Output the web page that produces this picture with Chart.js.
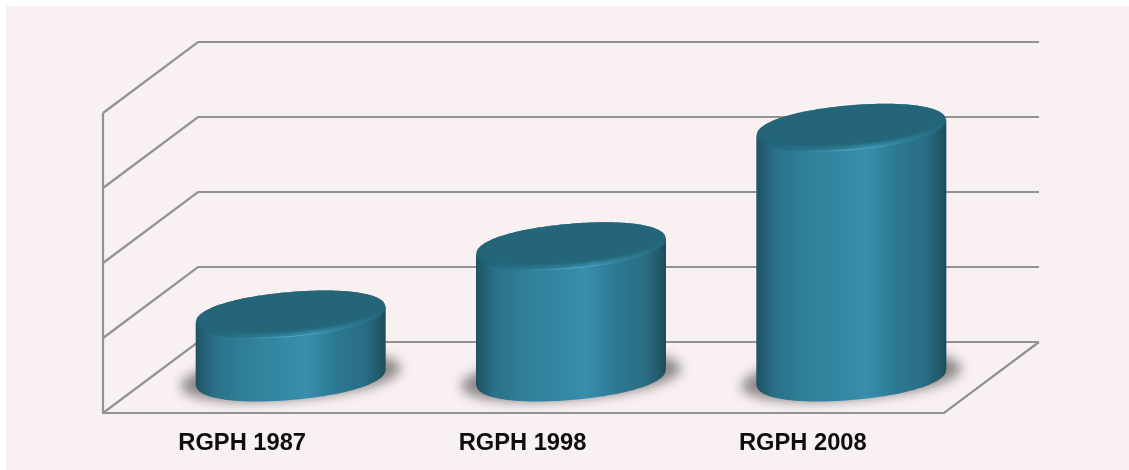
<!DOCTYPE html>
<html>
<head>
<meta charset="utf-8">
<script src="https://cdn.jsdelivr.net/npm/chart.js@4"></script>
<style>
html,body{margin:0;padding:0;background:#ffffff;}
#wrap{position:relative;width:1129px;height:470px;}
</style>
</head>
<body>
<div id="wrap"><canvas id="c" width="1129" height="470"></canvas></div>
<script>
const categories = ["RGPH 1987", "RGPH 1998", "RGPH 2008"];
const values = [0.84, 1.75, 3.33];
const axisMin = 0, axisMax = 4, axisStep = 1;

const DEPTH_X = 95, DEPTH_Y = 71;
const GRID = "#929290";
const TILT = -4.9 * Math.PI / 180;
const ROUNDNESS = 2.12;

function ellipsePath(ctx, cx, cy, a, b, rot) {
  const c = Math.cos(rot), s = Math.sin(rot), e = 2 / ROUNDNESS;
  ctx.beginPath();
  for (let i = 0; i < 180; i++) {
    const t = i / 180 * Math.PI * 2;
    const ct = Math.cos(t), st = Math.sin(t);
    const u = a * Math.sign(ct) * Math.pow(Math.abs(ct), e);
    const v = b * Math.sign(st) * Math.pow(Math.abs(st), e);
    const px = cx + u * c - v * s, py = cy + u * s + v * c;
    if (i === 0) ctx.moveTo(px, py); else ctx.lineTo(px, py);
  }
  ctx.closePath();
}

const scene = {
  id: "scene",
  beforeDraw(chart) {
    const ctx = chart.ctx;
    ctx.save();
    ctx.fillStyle = "#f8f0f1";
    ctx.fillRect(6, 6, 1123, 464);
    ctx.restore();
  },
  beforeDatasetsDraw(chart) {
    const { ctx, chartArea: ca, scales } = chart;
    const y = scales.y;
    ctx.save();
    ctx.strokeStyle = GRID;
    ctx.lineWidth = 2.2;
    ctx.lineJoin = "miter";
    y.ticks.forEach(t => {
      const py = y.getPixelForValue(t.value);
      ctx.beginPath();
      ctx.moveTo(ca.left, py);
      ctx.lineTo(ca.left + DEPTH_X, py - DEPTH_Y);
      ctx.lineTo(ca.right + DEPTH_X, py - DEPTH_Y);
      ctx.stroke();
    });
    const y0 = y.getPixelForValue(axisMin);
    const yT = y.getPixelForValue(axisMax);
    ctx.beginPath();
    ctx.moveTo(ca.left, yT);
    ctx.lineTo(ca.left, y0);
    ctx.lineTo(ca.right, y0);
    ctx.lineTo(ca.right + DEPTH_X, y0 - DEPTH_Y);
    ctx.stroke();
    ctx.restore();
  },
  afterDatasetsDraw(chart) {
    const ctx = chart.ctx;
    const meta = chart.getDatasetMeta(0);
    meta.data.forEach(bar => {
      const ext = bar.width / 2;
      const cx = bar.x + DEPTH_X / 2;
      const yBase = bar.base - DEPTH_Y / 2;
      const yTop = bar.y - DEPTH_Y / 2;
      const a = ext * 1.0, b = ext * 0.236, off = ext * 0.083;
      ctx.save();
      // floor shadow
      ctx.filter = "blur(6px)";
      ctx.fillStyle = "rgba(112,105,105,0.78)";
      ellipsePath(ctx, cx, yBase - 0.5, a + 15, b, TILT);
      ctx.fill();
      ctx.filter = "none";
      // body
      const g = ctx.createLinearGradient(cx - ext, 0, cx + ext, 0);
      g.addColorStop(0, "#1f5263");
      g.addColorStop(0.1, "#2a7188");
      g.addColorStop(0.25, "#2f7e98");
      g.addColorStop(0.58, "#378fab");
      g.addColorStop(0.75, "#2c7790");
      g.addColorStop(0.88, "#2a6f85");
      g.addColorStop(0.95, "#235d70");
      g.addColorStop(1, "#1d4c5b");
      ctx.fillStyle = g;
      ellipsePath(ctx, cx, yBase, a, b, TILT);
      ctx.fill();
      ctx.beginPath();
      ctx.moveTo(cx - ext, yBase + off);
      ctx.lineTo(cx - ext, yTop + off);
      ctx.lineTo(cx + ext, yTop - off);
      ctx.lineTo(cx + ext, yBase - off);
      ctx.closePath();
      ctx.fill();
      // top face: rim
      const rim = ctx.createLinearGradient(cx - ext, 0, cx + ext, 0);
      rim.addColorStop(0, "#1f6074");
      rim.addColorStop(0.3, "#2a778f");
      rim.addColorStop(0.62, "#358ca6");
      rim.addColorStop(0.85, "#2b7a91");
      rim.addColorStop(1, "#236476");
      ellipsePath(ctx, cx, yTop, a, b, TILT);
      ctx.fillStyle = rim;
      ctx.fill();
      ctx.save();
      ellipsePath(ctx, cx, yTop, a, b, TILT);
      ctx.clip();
      // light line on the lower rim
      const hi = ctx.createLinearGradient(cx - ext, 0, cx + ext, 0);
      hi.addColorStop(0.2, "rgba(95,180,205,0)");
      hi.addColorStop(0.5, "rgba(95,180,205,0.7)");
      hi.addColorStop(0.8, "rgba(95,180,205,0)");
      ctx.strokeStyle = hi;
      ctx.lineWidth = 1.6;
      ellipsePath(ctx, cx, yTop, a - 0.5, b - 0.4, TILT);
      ctx.stroke();
      // dark inner face
      ctx.filter = "blur(1.6px)";
      ctx.fillStyle = "#24657a";
      ellipsePath(ctx, cx + 0.5, yTop - 3.5, a - 1.5, b - 1, TILT);
      ctx.fill();
      ctx.filter = "none";
      ctx.restore();
      ctx.restore();
    });
  }
};

new Chart(document.getElementById("c"), {
  type: "bar",
  data: {
    labels: categories,
    datasets: [{
      data: values,
      backgroundColor: "rgba(0,0,0,0)",
      borderWidth: 0,
      categoryPercentage: 1,
      barPercentage: 190 / 280.33
    }]
  },
  plugins: [scene],
  options: {
    responsive: false,
    animation: false,
    devicePixelRatio: 1,
    layout: { padding: { left: 103, right: 185, top: 113, bottom: 0 } },
    plugins: { legend: { display: false }, tooltip: { enabled: false }, title: { display: false } },
    scales: {
      x: {
        grid: { display: false },
        border: { display: false },
        afterFit(s) { s.height = 57; },
        ticks: {
          color: "#0d0d0d",
          padding: 8,
          labelOffset: -1,
          maxRotation: 0,
          font: { family: "'Liberation Sans', Arial, sans-serif", weight: "bold", size: 23.7 }
        }
      },
      y: {
        display: false,
        min: axisMin,
        max: axisMax,
        ticks: { stepSize: axisStep },
        afterFit(s) { s.width = 0; }
      }
    }
  }
});
</script>
</body>
</html>
